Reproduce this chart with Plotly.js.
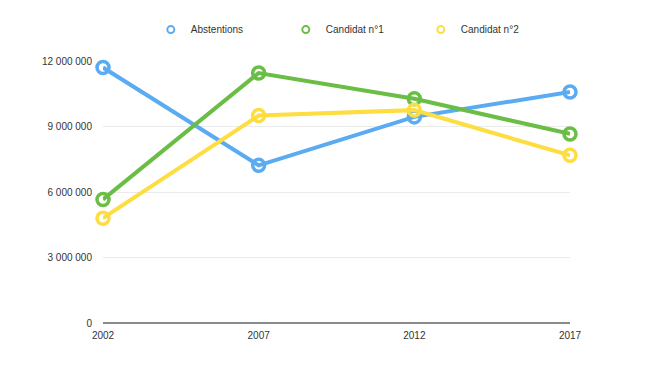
<!DOCTYPE html>
<html>
<head>
<meta charset="utf-8">
<script src="https://cdn.plot.ly/plotly-3.0.1.min.js"></script>
<style>html,body{margin:0;padding:0;background:#fff;}#chart{width:660px;height:380px;}</style>
</head>
<body>
<div id="chart"></div>
<script>
const years = [2002, 2007, 2012, 2017];
const seriesNames = ["Abstentions", "Candidat n°1", "Candidat n°2"];
const abstentions = [11700000, 7220000, 9440000, 10580000];
const candidat1 = [5660000, 11450000, 10270000, 8660000];
const candidat2 = [4800000, 9500000, 9750000, 7680000];
const colors = ["#5aabf2", "#6abd45", "#fddd3f"];
const yTickVals = [0, 3000000, 6000000, 9000000, 12000000];
const yTickText = ["0", "3 000 000", "6 000 000", "9 000 000", "12 000 000"];
const xTickText = ["2002", "2007", "2012", "2017"];

const allSeries = [abstentions, candidat1, candidat2];
const traces = [];
allSeries.forEach((vals, i) => {
  traces.push({
    x: years, y: vals, type: "scatter", mode: "lines+markers",
    name: seriesNames[i], showlegend: false, cliponaxis: false,
    line: {color: colors[i], width: 4},
    marker: {symbol: "circle-open", size: 12, color: colors[i], line: {width: 3.5, color: colors[i]}}
  });
});
allSeries.forEach((vals, i) => {
  traces.push({
    x: [null], y: [null], type: "scatter", mode: "markers",
    name: seriesNames[i], showlegend: true,
    marker: {symbol: "circle-open", size: 7, color: colors[i], line: {width: 2, color: colors[i]}}
  });
});

const layout = {
  width: 660, height: 380,
  margin: {l: 103, r: 90, t: 61, b: 57},
  paper_bgcolor: "#ffffff", plot_bgcolor: "#ffffff",
  font: {family: "Liberation Sans, Arial, sans-serif", size: 10, color: "#333333"},
  showlegend: true,
  legend: {
    orientation: "h", x: 0.536, xanchor: "center", y: 1.12, yanchor: "middle",
    font: {size: 10, color: "#333333"},
    itemwidth: 30, entrywidth: 90, entrywidthmode: "pixels"
  },
  xaxis: {
    range: [2002, 2017], tickvals: years, ticktext: xTickText,
    showgrid: false, zeroline: false, showline: false,
    ticks: "outside", ticklen: 3, tickcolor: "rgba(0,0,0,0)",
    tickfont: {size: 10, color: "#333333"}, fixedrange: true
  },
  yaxis: {
    range: [0, 12000000], tickvals: yTickVals, ticktext: yTickText,
    showgrid: true, gridcolor: "#ebebeb", gridwidth: 1,
    zeroline: true, zerolinecolor: "#8a8a8a", zerolinewidth: 2,
    showline: false, ticks: "outside", ticklen: 8, tickcolor: "rgba(0,0,0,0)",
    tickfont: {size: 10, color: "#333333"}, fixedrange: true
  }
};

Plotly.newPlot("chart", traces, layout, {displayModeBar: false, staticPlot: true});
</script>
</body>
</html>
